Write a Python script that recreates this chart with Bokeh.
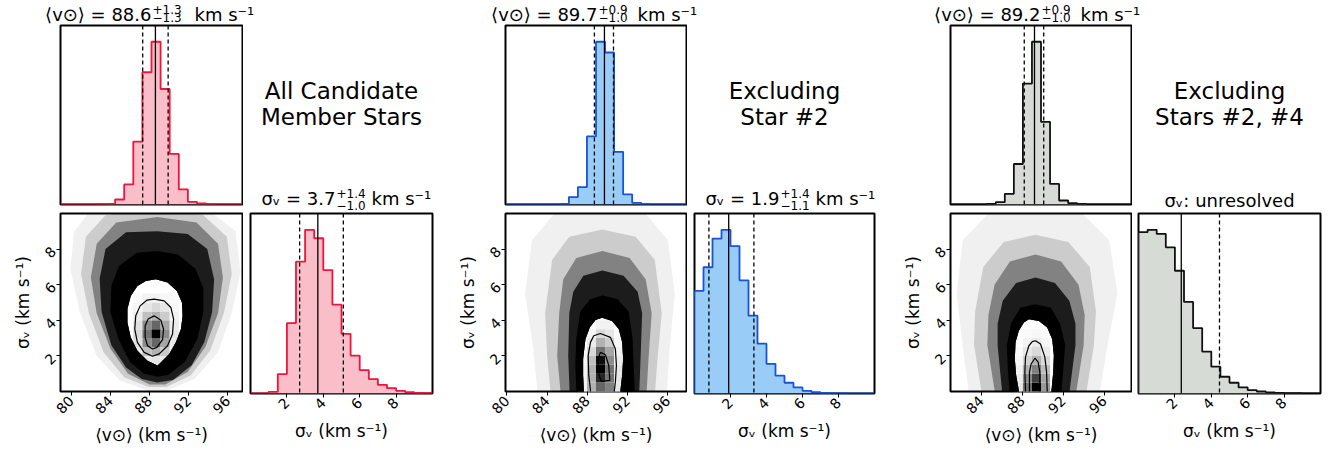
import numpy as np
from bokeh.plotting import figure
from bokeh.models import Range1d, Label, FixedTicker, Span
from bokeh.layouts import row, column
from bokeh.embed import file_html
from bokeh.resources import INLINE

FONT = "DejaVu Sans"

# ---------------- data ----------------
panel_titles = [["All Candidate", "Member Stars"], ["Excluding", "Star #2"], ["Excluding", "Stars #2, #4"]]
v_ranges = [(78.9, 97.5), (79.86, 97.86), (81.0, 98.67)]
sig_range = (0.0, 10.0)
n_bins = 20
v_ticks = [[80, 84, 88, 92, 96], [80, 84, 88, 92, 96], [84, 88, 92, 96]]
sig_ticks = [2, 4, 6, 8]

v_counts_1 = [0, 0, 0, 0, 1, 2, 15, 60, 188, 395, 486, 345, 151, 45, 8, 3, 1, 0, 0, 0]
v_counts_2 = [0, 0, 0, 0, 0, 0, 2, 22, 52, 203, 485, 453, 157, 30, 5, 1, 0, 0, 0, 0]
v_counts_3 = [0, 0, 0, 0, 2, 7, 32, 122, 364, 490, 249, 62, 12, 4, 2, 0, 0, 0, 0, 0]
sig_counts_1 = [0, 0, 5, 58, 210, 393, 488, 463, 368, 265, 178, 113, 70, 43, 26, 16, 8, 4, 2, 1]
sig_counts_2 = [305, 375, 460, 486, 438, 336, 231, 148, 88, 53, 32, 18, 8, 4, 2, 1, 1, 0, 0, 0]
sig_counts_3 = [481, 488, 476, 436, 366, 273, 195, 125, 80, 50, 32, 18, 10, 6, 3, 2, 1, 1, 0, 0]

v_median = [88.6, 89.7, 89.2]
v_err_plus = [1.3, 0.9, 0.9]
v_err_minus = [1.3, 1.0, 1.0]
sig_median = [3.7, 1.9, 2.35]
sig_err_plus = [1.4, 1.4, None]
sig_err_minus = [1.0, 1.1, None]
sig_upper_3 = 4.45

fill_colors = ["#fabec8", "#99ccf6", "#d6dbd6"]
edge_colors = ["#f0143c", "#1553d8", "#111111"]

# 2D panels: outlines of the scattered-sample cloud, from sparse (L1) to dense (core)
cloud_L1 = [
    [(88.8, 10.5), (94.0, 10.2), (96.8, 9.0), (97.3, 6.7), (96.4, 4.4), (95.0, 2.2), (92.6, 0.7), (89.8, 0.05),
     (87.8, 0.05), (85.0, 0.6), (82.6, 2.0), (80.9, 4.4), (79.9, 6.9), (80.3, 9.0), (82.0, 10.2)],
    [(89.5, 10.5), (93.5, 10.2), (96.0, 8.5), (96.7, 5.5), (96.2, 2.5), (95.8, -1.0), (83.2, -1.0), (82.6, 2.5),
     (81.8, 5.5), (82.5, 8.5), (85.0, 10.2)],
    [(89.3, 10.5), (93.5, 10.2), (96.5, 8.5), (97.3, 5.5), (96.3, 2.5), (95.3, -1.0), (83.0, -1.0), (82.2, 2.5),
     (81.6, 5.5), (82.2, 8.5), (85.0, 10.2)]]
cloud_L2 = [
    [(88.8, 10.3), (93.5, 9.9), (95.9, 8.7), (96.4, 6.6), (95.6, 4.4), (94.2, 2.3), (92.2, 0.9), (89.7, 0.25),
     (87.9, 0.25), (85.4, 0.8), (83.3, 2.2), (81.8, 4.4), (81.0, 6.6), (81.5, 8.7), (83.5, 9.9)],
    [(89.5, 9.1), (92.8, 8.7), (94.7, 7.4), (95.4, 4.4), (95.0, 2.0), (94.6, -1.0), (84.5, -1.0), (84.0, 2.0),
     (83.8, 4.4), (84.5, 7.4), (86.2, 8.7)],
    [(89.3, 8.8), (92.5, 8.4), (94.6, 7.0), (95.2, 4.5), (95.0, 2.6), (94.0, -1.0), (84.3, -1.0), (83.3, 2.6),
     (83.4, 4.5), (84.2, 7.0), (86.2, 8.4)]]
cloud_L3 = [
    [(88.8, 9.8), (92.8, 9.5), (95.0, 8.3), (95.5, 6.4), (95.0, 4.4), (93.7, 2.5), (91.9, 1.1), (89.6, 0.4),
     (88.0, 0.4), (85.8, 1.0), (84.0, 2.4), (82.6, 4.4), (82.0, 6.4), (82.6, 8.3), (84.6, 9.5)],
    [(89.5, 7.9), (92.2, 7.5), (93.8, 6.3), (94.4, 4.4), (94.1, 2.0), (93.8, -1.0), (85.5, -1.0), (85.0, 2.0),
     (85.2, 4.4), (85.6, 6.3), (86.9, 7.5)],
    [(89.3, 7.7), (91.8, 7.3), (93.5, 6.0), (94.1, 4.3), (94.0, 2.6), (93.0, -1.0), (85.6, -1.0), (84.6, 2.6),
     (84.7, 4.3), (85.3, 6.0), (86.8, 7.3)]]
cloud_L4 = [
    [(88.8, 9.0), (91.9, 8.85), (93.9, 8.0), (94.6, 6.3), (94.4, 4.46), (93.6, 2.78), (92.3, 1.48), (90.4, 0.64),
     (88.8, 0.5), (87.2, 0.7), (85.6, 1.35), (84.1, 2.6), (83.1, 4.46), (82.9, 6.33), (83.5, 8.0), (85.6, 8.95)],
    [(89.5, 6.8), (91.6, 6.5), (93.0, 5.6), (93.45, 4.4), (93.3, 2.0), (93.1, -1.0), (86.3, -1.0), (86.1, 2.0),
     (86.2, 4.4), (86.6, 5.6), (87.6, 6.5)],
    [(89.3, 6.4), (91.2, 6.1), (92.6, 5.1), (93.2, 3.8), (93.2, 2.6), (92.4, -1.0), (86.2, -1.0), (85.6, 2.6),
     (85.6, 3.8), (86.1, 5.1), (87.4, 6.1)]]
cloud_core = [
    [(88.8, 7.9), (90.9, 7.7), (92.7, 6.9), (93.5, 5.8), (93.5, 4.46), (92.9, 2.97), (91.6, 1.66), (89.9, 0.92),
     (88.8, 0.83), (87.4, 1.01), (86.0, 1.66), (84.8, 2.97), (84.0, 4.46), (84.1, 5.96), (84.9, 7.07), (86.7, 7.8)],
    [(89.5, 5.4), (91.0, 5.2), (92.1, 4.5), (92.5, 3.0), (92.6, 1.5), (92.8, -1.0), (87.0, -1.0), (86.8, 1.5),
     (86.9, 3.0), (87.3, 4.5), (88.3, 5.2)],
    [(89.3, 4.9), (90.8, 4.7), (91.7, 3.8), (92.2, 2.6), (92.0, 1.2), (91.7, -1.0), (86.9, -1.0), (86.6, 1.2),
     (86.5, 2.6), (86.9, 3.8), (87.8, 4.7)]]
cloud_alpha = [0.06, 0.15, 0.36, 0.78, 1.0]

lvl0_x = [[88.64, 89.84, 90.8, 91.31, 91.38, 91.21, 90.69, 90.01, 88.99, 88.81, 87.79, 86.76, 86.08, 85.74, 85.74, 86.08, 86.76, 87.62],
          [89.47, 90.46, 91.13, 91.46, 91.56, 91.46, 91.29, 91.29, 87.65, 87.65, 87.58, 87.58, 87.81, 88.24, 88.81],
          [88.65, 89.63, 90.44, 90.93, 91.09, 91.03, 90.86, 90.86, 87.67, 87.67, 87.41, 87.28, 87.35, 87.67, 88.16]]
lvl0_y = [[6.31, 6.12, 5.65, 5.0, 4.25, 3.51, 2.76, 2.11, 1.55, 1.46, 1.73, 2.29, 3.04, 3.88, 4.63, 5.37, 5.93, 6.21],
          [4.15, 3.96, 3.5, 2.76, 1.83, 0.91, 0.07, -0.5, -0.5, 0.07, 0.91, 1.83, 2.94, 3.59, 4.02],
          [4.06, 3.96, 3.59, 2.94, 2.02, 1.09, 0.07, -0.5, -0.5, 0.07, 0.91, 1.83, 2.76, 3.41, 3.87]]
lvl1_x = [[88.47, 89.5, 90.18, 90.46, 90.35, 89.84, 88.99, 88.3, 87.45, 86.76, 86.49, 86.59, 87.04, 87.72, 88.47],
          [88.31, 88.31, 88.14, 88.08, 88.31, 88.64, 89.3, 90.3, 90.79, 90.89, 90.79, 90.69, 90.69],
          [88.32, 88.32, 88.26, 88.32, 88.65, 88.98, 89.3, 89.79, 90.21, 90.38, 90.44, 90.44]]
lvl1_y = [[5.19, 5.09, 4.72, 4.07, 3.23, 2.57, 2.11, 1.98, 2.2, 2.76, 3.51, 4.25, 4.81, 5.13, 5.19],
          [-0.5, 0.07, 0.91, 2.02, 2.76, 3.13, 3.26, 3.04, 2.39, 1.46, 0.54, 0.07, -0.5],
          [-0.5, 0.07, 1.09, 1.93, 2.57, 2.8, 2.85, 2.67, 1.93, 1.09, 0.07, -0.5]]
lvl2_x = [[88.47, 89.16, 89.43, 89.33, 88.75, 88.3, 87.79, 87.55, 87.55, 87.86, 88.47],
          [89.3, 89.8, 90.13, 90.23, 89.37, 89.14, 89.07, 89.3],
          [88.71, 88.71, 88.71, 88.88, 89.24, 89.56, 89.72, 89.72, 89.72]]
lvl2_y = [[4.25, 4.0, 3.51, 2.91, 2.48, 2.39, 2.57, 3.04, 3.69, 4.07, 4.25],
          [2.2, 2.06, 1.46, 0.63, 0.57, 1.0, 1.83, 2.2],
          [-0.5, 0.07, 1.09, 1.56, 1.87, 1.65, 1.09, 0.07, -0.5]]

# 2D histogram darkness (0 white .. 1 black): first column / row index, then rows of cells
dens_col0 = [8, 8, 7]
dens_row0 = [3, 0, 0]
dens = [
    [[0.0, 0.08, 0.1, 0.08, 0.0],
     [0.08, 0.25, 0.3, 0.2, 0.05],
     [0.12, 0.45, 0.6, 0.35, 0.08],
     [0.15, 0.55, 1.0, 0.45, 0.1],
     [0.12, 0.45, 0.6, 0.35, 0.08],
     [0.08, 0.25, 0.3, 0.2, 0.05],
     [0.04, 0.1, 0.15, 0.1, 0.03],
     [0.02, 0.05, 0.05, 0.03, 0.02]],
    [[0.05, 0.3, 0.6, 0.5, 0.1],
     [0.05, 0.3, 0.85, 0.55, 0.1],
     [0.05, 0.3, 1.0, 0.55, 0.1],
     [0.03, 0.25, 0.95, 0.45, 0.08],
     [0.02, 0.15, 0.55, 0.35, 0.05],
     [0.0, 0.08, 0.3, 0.2, 0.03],
     [0.0, 0.04, 0.15, 0.1, 0.02],
     [0.0, 0.02, 0.05, 0.05, 0.0]],
    [[0.1, 0.55, 1.0, 0.4],
     [0.08, 0.45, 0.75, 0.35],
     [0.06, 0.3, 0.5, 0.25],
     [0.04, 0.18, 0.3, 0.15],
     [0.02, 0.1, 0.15, 0.08],
     [0.0, 0.05, 0.08, 0.04],
     [0.0, 0.02, 0.03, 0.02]],
]

v_counts = [v_counts_1, v_counts_2, v_counts_3]
sig_counts = [sig_counts_1, sig_counts_2, sig_counts_3]

# ---------------- layout (pixels) ----------------
LEFT_COL = [(60, 182, 1), (65, 181, 1), (66, 181, 1)]
SIG_COL = [(7, 182, 8), (7, 180, 10), (6, 182, 6)]
TTL_H = 24
TOP_T, TOP_H, TOP_B = 1, 179, 8
BOT_T, BOT_H, BOT_B = 1, 180, 55
TXT_H = TOP_T + TOP_H + TOP_B
ROW_BOTTOM = TTL_H + TXT_H        # page y of the bottom of the upper row
TOP_J = [91, 92, 90]
TOP_K = [43, 40, 40]
SIG_J = [85, 85, None]
SIG_K = 36


def gray(d):
    g = int(round(255 * (1 - d)))
    return "#%02x%02x%02x" % (g, g, g)


def mkfig(xr, yr, lr, tb, outline=True):
    L, F, R = lr
    T, H, B = tb
    p = figure(width=L + F + R, height=T + H + B, x_range=Range1d(*xr), y_range=Range1d(*yr),
               output_backend="svg", toolbar_location=None, title=None, frame_align=False,
               min_border_left=L, min_border_right=R, min_border_top=T, min_border_bottom=B)
    p.xgrid.visible = False
    p.ygrid.visible = False
    p.outline_line_color = "black" if outline else None
    p.outline_line_width = 2
    p.background_fill_color = "white"
    p.border_fill_color = "white"
    for ax in list(p.xaxis) + list(p.yaxis):
        ax.axis_line_color = None
        ax.major_tick_line_color = "black"
        ax.major_tick_line_width = 1
        ax.major_tick_out = 4
        ax.major_tick_in = 0
        ax.minor_tick_line_color = None
        ax.major_label_text_font = FONT
        ax.major_label_text_font_size = "14px"
        ax.major_label_text_color = "black"
        ax.major_label_standoff = 3
        ax.axis_label_text_font = FONT
        ax.axis_label_text_font_size = "17px"
        ax.axis_label_text_font_style = "normal"
        ax.axis_label_text_color = "black"
        ax.axis_label_standoff = 4
    return p


def textfig(w, h):
    p = mkfig((0, w), (0, h), (0, w, 0), (0, h, 0), outline=False)
    p.axis.visible = False
    return p


def hist(p, lo, hi, counts, fc, ec):
    edges = np.linspace(lo, hi, n_bins + 1)
    xs = np.repeat(edges, 2)
    ys = np.concatenate([[0], np.repeat(np.asarray(counts, float), 2), [0]])
    p.patch(xs, ys, fill_color=fc, line_color=None)
    p.line(xs, ys, line_color=ec, line_width=1.8)


def vline(p, x, dashed):
    p.add_layout(Span(location=x, dimension="height", line_color="black", line_width=1.3,
                      line_dash="4 3" if dashed else "solid"))


def lab(p, x, y, text, size, align="left"):
    # y: wanted baseline height in pixels from the bottom of the text figure
    px = float(size.replace("px", ""))
    p.add_layout(Label(x=x, y=y + 0.3 * px, text=text, text_font=FONT, text_font_size=size,
                       text_color="black", text_align=align, text_baseline="alphabetic"))


groups = []
for g in range(3):
    vr = v_ranges[g]
    LL, LF, LR = LEFT_COL[g]
    SL, SF, SR = SIG_COL[g]
    W_left = LL + LF + LR
    W_sig = SL + SF + SR

    # --- title strip above the <v> histogram (pixel coordinates), spans the whole group
    ptt = textfig(W_left + W_sig, TTL_H)
    m, ep, em = v_median[g], v_err_plus[g], v_err_minus[g]
    J = LL + TOP_J[g]
    lab(ptt, J, TTL_H - 19, "⟨v⊙⟩ = %.1f" % m, "18px", "right")
    lab(ptt, J + 1, TTL_H - 12.5, "+%.1f" % ep, "12px")
    lab(ptt, J + 1, TTL_H - 21, "−%.1f" % em, "12px")
    lab(ptt, J + TOP_K[g], TTL_H - 19, "km s⁻¹", "18px")

    # --- top histogram of <v>
    vmax = max(v_counts[g]) * 1.1
    pt = mkfig(vr, (0, vmax), LEFT_COL[g], (TOP_T, TOP_H, TOP_B))
    pt.axis.visible = False
    hist(pt, vr[0], vr[1], v_counts[g], fill_colors[g], edge_colors[g])
    vline(pt, m - em, True)
    vline(pt, m, False)
    vline(pt, m + ep, True)

    # --- text area right of the <v> histogram (pixel coordinates)
    ptx = textfig(W_sig, TXT_H)
    cx = SL + SF / 2
    lab(ptx, cx, ROW_BOTTOM - 97, panel_titles[g][0], "23px", "center")
    lab(ptx, cx, ROW_BOTTOM - 123, panel_titles[g][1], "23px", "center")
    if sig_err_plus[g] is not None:
        SJ = SL + SIG_J[g]
        lab(ptx, SJ, ROW_BOTTOM - 203, "σᵥ = %.1f" % sig_median[g], "18px", "right")
        lab(ptx, SJ + 1, ROW_BOTTOM - 197, "+%.1f" % sig_err_plus[g], "12px")
        lab(ptx, SJ + 1, ROW_BOTTOM - 208.5, "−%.1f" % sig_err_minus[g], "12px")
        lab(ptx, SJ + SIG_K, ROW_BOTTOM - 203, "km s⁻¹", "18px")
    else:
        lab(ptx, cx, ROW_BOTTOM - 205, "σᵥ: unresolved", "18px", "center")

    # --- 2D panel
    p2 = mkfig(vr, sig_range, LEFT_COL[g], (BOT_T, BOT_H, BOT_B))
    p2.xaxis.ticker = FixedTicker(ticks=v_ticks[g])
    p2.yaxis.ticker = FixedTicker(ticks=sig_ticks)
    p2.xaxis.major_label_orientation = np.pi / 4
    p2.yaxis.major_label_orientation = np.pi / 4
    p2.xaxis.axis_label = "⟨v⊙⟩ (km s⁻¹)"
    p2.yaxis.axis_label = "σᵥ (km s⁻¹)"
    p2.patch(lvl0_x[g], lvl0_y[g], fill_color="white", line_color=None)
    bw = (vr[1] - vr[0]) / n_bins
    bh = (sig_range[1] - sig_range[0]) / n_bins
    L_, R_, B_, T_, C_ = [], [], [], [], []
    for r, rowv in enumerate(dens[g]):
        for c, d in enumerate(rowv):
            if d <= 0:
                continue
            ci = dens_col0[g] + c
            ri = dens_row0[g] + r
            L_.append(vr[0] + ci * bw)
            R_.append(vr[0] + (ci + 1) * bw)
            B_.append(sig_range[0] + ri * bh)
            T_.append(sig_range[0] + (ri + 1) * bh)
            C_.append(gray(d))
    p2.quad(left=L_, right=R_, bottom=B_, top=T_, fill_color=C_, line_color=None)
    # scattered samples outside the lowest contour: cloud layers with that contour as a hole
    for layer, a in zip((cloud_L1, cloud_L2, cloud_L3, cloud_L4, cloud_core), cloud_alpha):
        cx_ = [q[0] for q in layer[g]]
        cy_ = [q[1] for q in layer[g]]
        p2.multi_polygons(xs=[[[cx_, lvl0_x[g]]]], ys=[[[cy_, lvl0_y[g]]]],
                          fill_color="black", fill_alpha=a, line_color=None)
    p2.line(lvl1_x[g], lvl1_y[g], line_color="black", line_width=1.2)
    p2.line(lvl2_x[g], lvl2_y[g], line_color="black", line_width=1.2)

    # --- sigma histogram
    smax = max(sig_counts[g]) * 1.1
    ps = mkfig(sig_range, (0, smax), SIG_COL[g], (BOT_T, BOT_H, BOT_B))
    ps.yaxis.visible = False
    ps.xaxis.ticker = FixedTicker(ticks=sig_ticks)
    ps.xaxis.major_label_orientation = np.pi / 4
    ps.xaxis.axis_label = "σᵥ (km s⁻¹)"
    hist(ps, sig_range[0], sig_range[1], sig_counts[g], fill_colors[g], edge_colors[g])
    if sig_err_plus[g] is not None:
        vline(ps, sig_median[g] - sig_err_minus[g], True)
        vline(ps, sig_median[g], False)
        vline(ps, sig_median[g] + sig_err_plus[g], True)
    else:
        vline(ps, sig_median[g], False)
        vline(ps, sig_upper_3, True)

    groups.append(column(ptt, row(pt, ptx), row(p2, ps)))

layout = row(*groups)
open("out.html", "w").write(file_html(layout, INLINE))
